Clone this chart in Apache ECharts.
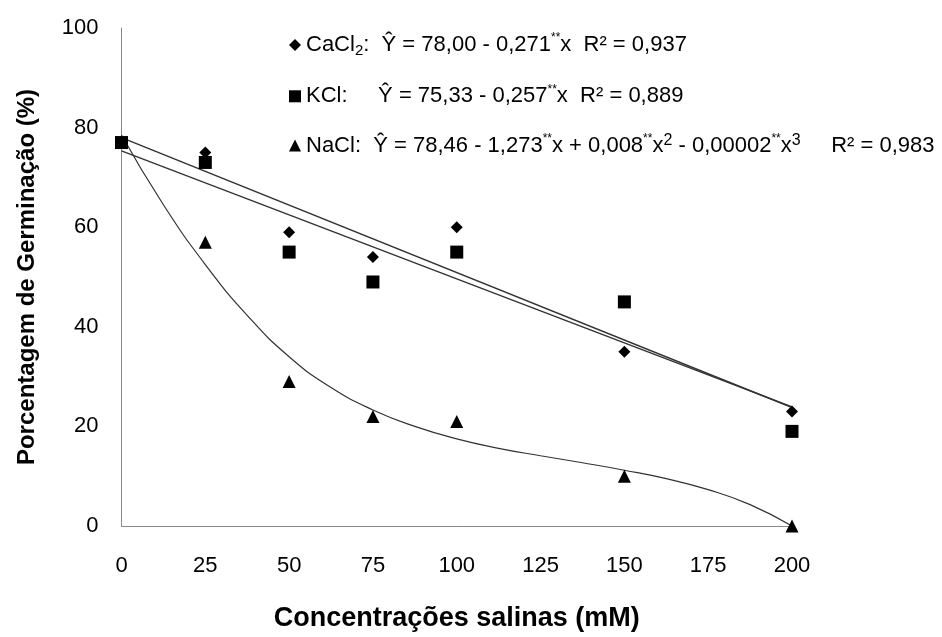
<!DOCTYPE html>
<html>
<head>
<meta charset="utf-8">
<script src="https://cdn.jsdelivr.net/npm/echarts@6/dist/echarts.min.js"></script>
<style>
  html, body { margin: 0; padding: 0; background: #fff; }
  #chart { width: 942px; height: 637px; }
</style>
</head>
<body>
<div id="chart"></div>
<script>
var chart = echarts.init(document.getElementById('chart'));

// observed germination (%) by salt concentration (mM)
const concentrations = [0, 25, 50, 75, 100, 150, 200];
const cacl2 = [77, 75, 59, 54, 60, 35, 23];
const kcl = [77, 73, 55, 49, 55, 45, 19];
const nacl = [77, 57, 29, 22, 21, 10, 0];

// fitted trend lines
const fitX = [0, 200];
const cacl2Fit = [78.0, 23.8];
const kclFit = [75.33, 23.93];
const naclCurveX = [0, 12.5, 25, 37.5, 50, 62.5, 75, 87.5, 100, 112.5, 125, 137.5, 150, 162.5, 175, 187.5, 200];
const naclCurve = [78.5, 64.5, 52.5, 42.3, 34, 27.8, 23.3, 20.0, 17.5, 15.6, 14.1, 12.7, 11.2, 9.5, 7.3, 4.3, 0];

const xTicks = [0, 25, 50, 75, 100, 125, 150, 175, 200];
const yTicks = [0, 20, 40, 60, 80, 100];

function pairs(xs, ys) {
    return xs.map(function (x, i) { return [x, ys[i]]; });
}

const font = '"Liberation Sans", Arial, sans-serif';

const legendText = {
    'CaCl2': '{t|CaCl}{sub|2}{t|:  Ŷ = 78,00 - 0,271}{sup|**}{t|x  R² = 0,937}',
    'KCl': '{t|KCl:     Ŷ = 75,33 - 0,257}{sup|**}{t|x  R² = 0,889}',
    'NaCl': '{t|NaCl:  Ŷ = 78,46 - 1,273}{sup|**}{t|x + 0,008}{sup|**}{t|x}{pw|2}{t| - 0,00002}{sup|**}{t|x}{pw|3}{t|     R² = 0,983}'
};

var option = {
    animation: false,
    backgroundColor: '#fff',
    textStyle: { fontFamily: font },
    grid: {
        left: 121.5,
        right: 150,
        top: 28,
        bottom: 106
    },
    legend: {
        orient: 'vertical',
        left: 284,
        top: 27,
        itemGap: 25.3,
        itemWidth: 12,
        itemHeight: 12,
        data: [
            { name: 'CaCl2', icon: 'diamond' },
            { name: 'KCl', icon: 'rect' },
            { name: 'NaCl', icon: 'triangle' }
        ],
        formatter: function (name) { return legendText[name]; },
        textStyle: {
            rich: {
                t: { fontSize: 22, color: '#000', fontFamily: font, lineHeight: 26 },
                sub: { fontSize: 15, color: '#000', fontFamily: font, verticalAlign: 'bottom', lineHeight: 24 },
                sup: { fontSize: 12, color: '#000', fontFamily: font, verticalAlign: 'top', lineHeight: 16 },
                pw: { fontSize: 16, color: '#000', fontFamily: font, verticalAlign: 'top', lineHeight: 20 }
            }
        }
    },
    xAxis: {
        type: 'value',
        min: 0,
        max: 200,
        interval: 25,
        name: 'Concentrações salinas (mM)',
        nameLocation: 'middle',
        nameGap: 79,
        nameTextStyle: { fontSize: 27, fontWeight: 'bold', color: '#000', fontFamily: font },
        axisLine: { lineStyle: { color: '#888', width: 1 } },
        axisTick: { show: false },
        splitLine: { show: false },
        axisLabel: {
            fontSize: 22, color: '#000', margin: 29,
            formatter: function (v) { return xTicks.indexOf(v) >= 0 ? String(v) : ''; }
        }
    },
    yAxis: {
        type: 'value',
        min: 0,
        max: 100,
        interval: 20,
        name: 'Porcentagem de Germinação (%)',
        nameLocation: 'middle',
        nameGap: 82,
        nameTextStyle: { fontSize: 24, fontWeight: 'bold', color: '#000', fontFamily: font },
        axisLine: { show: true, lineStyle: { color: '#888', width: 1 } },
        axisTick: { show: false },
        splitLine: { show: false },
        axisLabel: {
            fontSize: 22, color: '#000', margin: 23,
            formatter: function (v) { return yTicks.indexOf(v) >= 0 ? String(v) : ''; }
        }
    },
    series: [
        {
            name: 'CaCl2 fit', type: 'line', data: pairs(fitX, cacl2Fit),
            symbol: 'none', lineStyle: { color: '#333', width: 1.4 }, z: 2
        },
        {
            name: 'KCl fit', type: 'line', data: pairs(fitX, kclFit),
            symbol: 'none', lineStyle: { color: '#333', width: 1.4 }, z: 2
        },
        {
            name: 'NaCl fit', type: 'line', data: pairs(naclCurveX, naclCurve),
            smooth: true, symbol: 'none', lineStyle: { color: '#333', width: 1.2 }, z: 2
        },
        {
            name: 'NaCl', type: 'scatter', data: pairs(concentrations, nacl),
            symbol: 'triangle', symbolSize: 13, itemStyle: { color: '#000', opacity: 1 }, z: 3
        },
        {
            name: 'CaCl2', type: 'scatter', data: pairs(concentrations, cacl2),
            symbol: 'diamond', symbolSize: 12, itemStyle: { color: '#000', opacity: 1 }, z: 4
        },
        {
            name: 'KCl', type: 'scatter', data: pairs(concentrations, kcl),
            symbol: 'rect', symbolSize: 13, itemStyle: { color: '#000', opacity: 1 }, z: 5
        }
    ]
};
chart.setOption(option);
</script>
</body>
</html>
